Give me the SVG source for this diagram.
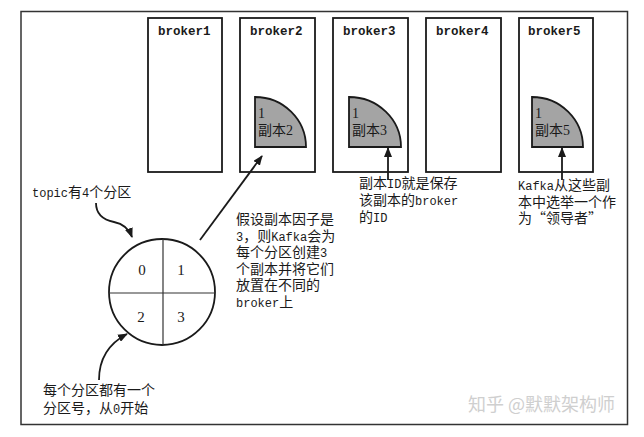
<svg xmlns="http://www.w3.org/2000/svg" width="644" height="437" viewBox="0 0 644 437">
<style>
.box{fill:#fff;stroke:#1a1a1a;stroke-width:1.8}
.rep{fill:#a4a4a4;stroke:#1a1a1a;stroke-width:1.8}
.bl{font-family:'Liberation Mono',monospace;font-size:12.5px;font-weight:bold;fill:#1a1a1a}
.t{font-family:'Noto Sans CJK SC',sans-serif;font-size:14px;fill:#1a1a1a}
.m{font-family:'Liberation Mono',monospace;font-size:12px}
.s{font-family:'Liberation Serif',serif}
.num{font-family:'Liberation Serif',serif;font-size:15px;fill:#1a1a1a;text-anchor:middle}
.con{fill:none;stroke:#1a1a1a;stroke-width:1.8}
.wm{font-family:'Noto Sans CJK SC',sans-serif;font-size:18px;fill:#cfcfcf}
</style>
<defs>
<marker id="ah" markerUnits="userSpaceOnUse" markerWidth="10" markerHeight="8" refX="9" refY="4" orient="auto">
<path d="M0,0 L10,4 L0,8 z" fill="#1a1a1a"/>
</marker>
</defs>
<rect width="644" height="437" fill="#fff"/>
<rect id="frame" x="21" y="11.5" width="606.5" height="413" fill="none" stroke="#333" stroke-width="1.5"/>

<g id="broker1"><rect class="box" x="148" y="18" width="74" height="154"/><text class="bl" x="158" y="35">broker1</text></g>
<g id="broker2"><rect class="box" x="240" y="18" width="75" height="154"/><text class="bl" x="250" y="35">broker2</text>
<g id="replica2"><path class="rep" d="M255,147 V97 A51,50 0 0 1 306,147 Z"/><text class="t" x="258" y="118"><tspan class="s">1</tspan><tspan x="258" dy="17">副本</tspan><tspan class="s">2</tspan></text></g></g>
<g id="broker3"><rect class="box" x="333" y="18" width="75" height="154"/><text class="bl" x="343" y="35">broker3</text>
<g id="replica3"><path class="rep" d="M349,147 V97 A52,50 0 0 1 401,147 Z"/><text class="t" x="352" y="118"><tspan class="s">1</tspan><tspan x="352" dy="17">副本</tspan><tspan class="s">3</tspan></text></g></g>
<g id="broker4"><rect class="box" x="426" y="18" width="75" height="154"/><text class="bl" x="436" y="35">broker4</text></g>
<g id="broker5"><rect class="box" x="519" y="18" width="74" height="154"/><text class="bl" x="528" y="35">broker5</text>
<g id="replica5"><path class="rep" d="M532,147 V97 A51,50 0 0 1 583,147 Z"/><text class="t" x="535" y="118"><tspan class="s">1</tspan><tspan x="535" dy="17">副本</tspan><tspan class="s">5</tspan></text></g></g>

<g id="topic">
<circle cx="162" cy="292" r="53" fill="#fff" stroke="#1a1a1a" stroke-width="1.8"/>
<line x1="109" y1="293" x2="215" y2="293" stroke="#333" stroke-width="1.2"/>
<line x1="163" y1="239" x2="163" y2="345" stroke="#333" stroke-width="1.2"/>
<text class="num" x="142" y="275">0</text>
<text class="num" x="181" y="275">1</text>
<text class="num" x="141" y="322">2</text>
<text class="num" x="181" y="322">3</text>
</g>

<g id="connectors">
<path class="con" d="M96,203 C96,215 104,220 114,222 C124,224 129,229 132,237" marker-end="url(#ah)"/>
<path class="con" d="M99,380 C99,360 108,344 127,334" marker-end="url(#ah)"/>
<line class="con" x1="200" y1="240" x2="262" y2="156" marker-end="url(#ah)"/>
<line class="con" x1="388" y1="180" x2="388" y2="148" marker-end="url(#ah)"/>
<line class="con" x1="562" y1="180" x2="562" y2="148" marker-end="url(#ah)"/>
</g>

<g id="label-topic"><text class="t" x="32" y="197"><tspan class="m">topic</tspan>有<tspan class="m">4</tspan>个分区</text></g>
<g id="label-partition"><text class="t" x="43" y="395">每个分区都有一个<tspan x="43" dy="18">分区号，从</tspan><tspan class="m">0</tspan>开始</text></g>
<g id="label-factor">
<text class="t" x="236" y="224">假设副本因子是<tspan x="236" dy="16.6" class="m">3</tspan>，则<tspan class="m">Kafka</tspan>会为<tspan x="236" dy="16.6">每个分区创建</tspan><tspan class="m">3</tspan><tspan x="236" dy="16.6">个副本并将它们</tspan><tspan x="236" dy="16.6">放置在不同的</tspan><tspan x="236" dy="16.6" class="m">broker</tspan>上</text>
</g>
<g id="label-id">
<text class="t" x="359" y="188">副本<tspan class="m">ID</tspan>就是保存<tspan x="359" dy="17">该副本的</tspan><tspan class="m">broker</tspan><tspan x="359" dy="17">的</tspan><tspan class="m">ID</tspan></text>
</g>
<g id="label-leader">
<text class="t" x="518" y="190"><tspan class="m">Kafka</tspan>从这些副<tspan x="518" dy="16.5">本中选举一个作</tspan><tspan x="518" dy="16.5">为“领导者”</tspan></text>
</g>
<text class="wm" x="468" y="411">知乎 @默默架构师</text>
</svg>
